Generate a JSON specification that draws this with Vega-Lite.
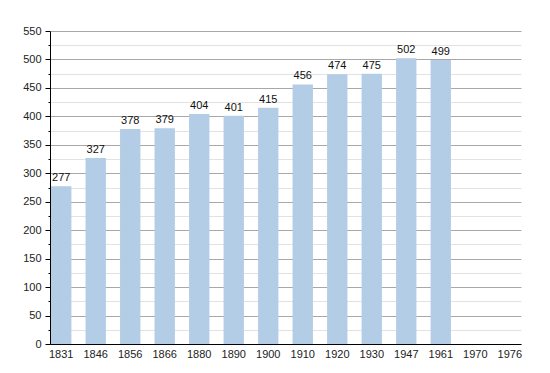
{
  "$schema": "https://vega.github.io/schema/vega-lite/v6.json",
  "width": 550,
  "height": 373,
  "autosize": {"type": "fit", "contains": "padding"},
  "padding": {"left": 22, "top": 25, "right": 29, "bottom": 14},
  "background": "white",
  "config": {
    "view": {"stroke": null},
    "font": "Liberation Sans",
    "axis": {"labelFont": "Liberation Sans", "labelFontSize": 11, "labelColor": "#222"}
  },
  "data": {
    "values": [
      {"year": "1831", "pop": 277},
      {"year": "1846", "pop": 327},
      {"year": "1856", "pop": 378},
      {"year": "1866", "pop": 379},
      {"year": "1880", "pop": 404},
      {"year": "1890", "pop": 401},
      {"year": "1900", "pop": 415},
      {"year": "1910", "pop": 456},
      {"year": "1920", "pop": 474},
      {"year": "1930", "pop": 475},
      {"year": "1947", "pop": 502},
      {"year": "1961", "pop": 499}
    ]
  },
  "encoding": {
    "x": {
      "field": "year",
      "type": "ordinal",
      "scale": {
        "domain": ["1831","1846","1856","1866","1880","1890","1900","1910","1920","1930","1947","1961","1970","1976"],
        "paddingInner": 0.41,
        "paddingOuter": 0.03
      },
      "axis": {
        "title": null,
        "labelAngle": 0,
        "ticks": false,
        "domainColor": "#000",
        "labelPadding": 4,
        "grid": false
      }
    },
    "y": {
      "field": "pop",
      "type": "quantitative",
      "scale": {"domain": [0, 550], "nice": false},
      "axis": {
        "title": null,
        "values": [0,25,50,75,100,125,150,175,200,225,250,275,300,325,350,375,400,425,450,475,500,525,550],
        "labelExpr": "datum.value % 50 === 0 ? datum.label : ''",
        "domainColor": "#000",
        "tickColor": "#000",
        "tickSize": {"condition": {"test": "datum.value % 50 === 0", "value": 5}, "value": 2},
        "grid": true,
        "gridColor": {"condition": {"test": "datum.value % 50 === 0", "value": "#a8a8a8"}, "value": "#e2e2e2"},
        "labelPadding": 4
      }
    }
  },
  "layer": [
    {"mark": {"type": "bar", "color": "#b3cde6"}},
    {
      "mark": {"type": "text", "baseline": "bottom", "dy": -3, "fontSize": 11, "color": "#111", "font": "Liberation Sans"},
      "encoding": {"text": {"field": "pop", "type": "quantitative"}}
    }
  ]
}
